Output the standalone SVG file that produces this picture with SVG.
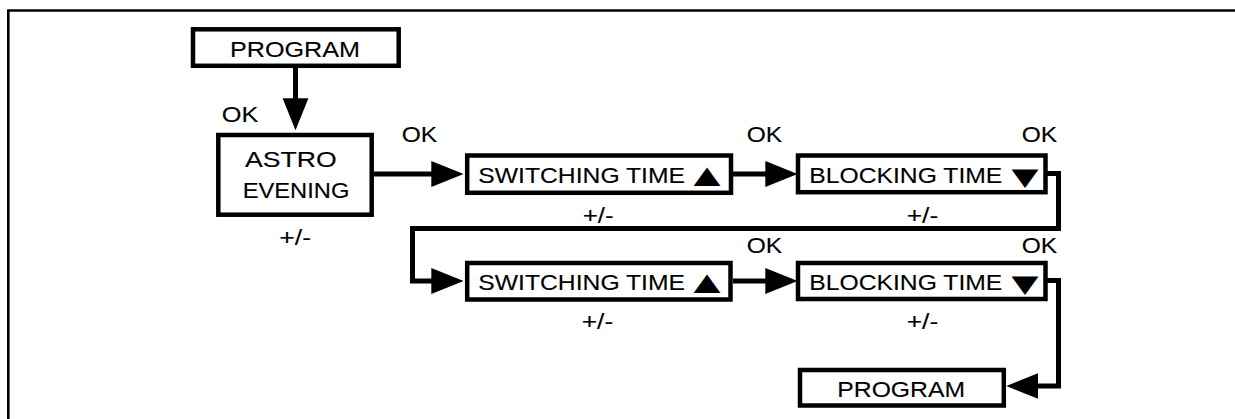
<svg xmlns="http://www.w3.org/2000/svg" width="1235" height="419" viewBox="0 0 1235 419">
<style>
.box{fill:#fff;stroke:#000;stroke-width:4.5}
.ln{fill:none;stroke:#000;stroke-width:5}
.t{font-family:"Liberation Sans",Arial,sans-serif;font-size:21.5px;fill:#000;stroke:#000;stroke-width:0.12}
.tri{font-family:"DejaVu Sans",sans-serif;font-size:24px;stroke-width:0}
</style>
<defs>
<marker id="ah" markerUnits="userSpaceOnUse" markerWidth="32" markerHeight="26" refX="21" refY="12.5" orient="auto" viewBox="0 0 31 25">
<path d="M0,0 L31,12.5 L0,25 Z" fill="#000"/>
</marker>
</defs>
<rect width="1235" height="419" fill="#fff"/>
<path d="M1235 10.5 H8.3 V419" fill="none" stroke="#000" stroke-width="2.6"/>
<g id="connectors">
<path class="ln" d="M295.5 68 V120" marker-end="url(#ah)"/>
<path class="ln" d="M374 174 H453" marker-end="url(#ah)"/>
<path class="ln" d="M733 174 H787" marker-end="url(#ah)"/>
<path class="ln" d="M1047 173.5 H1058.5 V228.5 H412.5 V281 H453" marker-end="url(#ah)"/>
<path class="ln" d="M733 281 H787" marker-end="url(#ah)"/>
<path class="ln" d="M1047 280.5 H1058.5 V386 H1016.7" marker-end="url(#ah)"/>
</g>
<g id="program-top">
<rect class="box" x="193" y="29.3" width="205.7" height="36.5"/>
<text class="t" x="230" y="57.3" textLength="130" lengthAdjust="spacingAndGlyphs">PROGRAM</text>
</g>
<g id="astro-evening">
<rect class="box" x="218.3" y="135" width="153.4" height="79.7"/>
<text class="t" x="245" y="166.7" textLength="91.7" lengthAdjust="spacingAndGlyphs">ASTRO</text>
<text class="t" x="242.7" y="198.3" textLength="106.7" lengthAdjust="spacingAndGlyphs">EVENING</text>
</g>
<g id="switching-1">
<rect class="box" x="467.2" y="155.5" width="263.8" height="37.3"/>
<text class="t" y="183.3"><tspan x="478.3" textLength="206.7" lengthAdjust="spacingAndGlyphs">SWITCHING TIME</tspan><tspan class="tri" x="693.5" textLength="27" lengthAdjust="spacingAndGlyphs">▲</tspan></text>
</g>
<g id="blocking-1">
<rect class="box" x="798" y="155.5" width="247.5" height="36.7"/>
<text class="t" y="182.5"><tspan x="809.3" textLength="193" lengthAdjust="spacingAndGlyphs">BLOCKING TIME</tspan><tspan class="tri" x="1011.5" y="184.5" textLength="27" lengthAdjust="spacingAndGlyphs">▼</tspan></text>
</g>
<g id="switching-2">
<rect class="box" x="467.2" y="263" width="263.3" height="36.5"/>
<text class="t" y="290.3"><tspan x="478.3" textLength="206.7" lengthAdjust="spacingAndGlyphs">SWITCHING TIME</tspan><tspan class="tri" x="693.5" textLength="27" lengthAdjust="spacingAndGlyphs">▲</tspan></text>
</g>
<g id="blocking-2">
<rect class="box" x="798" y="263" width="247.5" height="36"/>
<text class="t" y="290"><tspan x="809.3" textLength="193" lengthAdjust="spacingAndGlyphs">BLOCKING TIME</tspan><tspan class="tri" x="1011.5" y="292" textLength="27" lengthAdjust="spacingAndGlyphs">▼</tspan></text>
</g>
<g id="program-bottom">
<rect class="box" x="800" y="370" width="203.8" height="35.5"/>
<text class="t" x="837.3" y="396.7" textLength="127.7" lengthAdjust="spacingAndGlyphs">PROGRAM</text>
</g>
<g id="labels">
<text class="t" x="221.7" y="122" textLength="36.6" lengthAdjust="spacingAndGlyphs">OK</text>
<text class="t" x="401.7" y="141.7" textLength="35.5" lengthAdjust="spacingAndGlyphs">OK</text>
<text class="t" x="746.7" y="141.7" textLength="35.5" lengthAdjust="spacingAndGlyphs">OK</text>
<text class="t" x="1021.7" y="141.7" textLength="35.5" lengthAdjust="spacingAndGlyphs">OK</text>
<text class="t" x="746.7" y="253.3" textLength="35.5" lengthAdjust="spacingAndGlyphs">OK</text>
<text class="t" x="1021.7" y="253.3" textLength="35.5" lengthAdjust="spacingAndGlyphs">OK</text>
<text class="t" x="279.3" y="245" textLength="31.7" lengthAdjust="spacingAndGlyphs">+/-</text>
<text class="t" x="582.7" y="222.5" textLength="30.8" lengthAdjust="spacingAndGlyphs">+/-</text>
<text class="t" x="906.7" y="222.5" textLength="31.6" lengthAdjust="spacingAndGlyphs">+/-</text>
<text class="t" x="581.7" y="329.3" textLength="31.6" lengthAdjust="spacingAndGlyphs">+/-</text>
<text class="t" x="906.7" y="329.3" textLength="31.6" lengthAdjust="spacingAndGlyphs">+/-</text>
</g>
</svg>
